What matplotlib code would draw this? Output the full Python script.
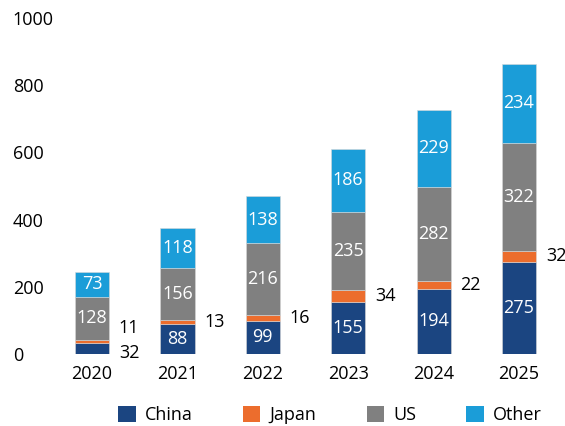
import matplotlib.pyplot as plt
import numpy as np
from matplotlib.patches import Patch

plt.rcParams['font.family'] = ['Open Sans', 'DejaVu Sans']

years = ['2020', '2021', '2022', '2023', '2024', '2025']
china = [32, 88, 99, 155, 194, 275]
japan = [11, 13, 16, 34, 22, 32]
us = [128, 156, 216, 235, 282, 322]
other = [73, 118, 138, 186, 229, 234]

series_names = ['China', 'Japan', 'US', 'Other']
colors = ['#1b4581', '#ec6d2d', '#808080', '#1b9dd8']

W, H = 565, 426
fig = plt.figure(figsize=(W / 100, H / 100), dpi=100)
ax = fig.add_axes([60 / W, 72 / H, 500 / W, 336 / H])

x = np.arange(len(years))
bw = 0.4
bottom = np.zeros(len(years))
for vals, c in zip([china, japan, us, other], colors):
    ax.bar(x, vals, bw, bottom=bottom, color=c, edgecolor='#d8d8d8', linewidth=0.4)
    bottom += np.array(vals)

fs = 13
# labels inside bars
for i in range(len(years)):
    base = 0
    for name, vals in zip(series_names, [china, japan, us, other]):
        v = vals[i]
        mid = base + v / 2
        if name == 'Japan':
            dy = 10 if i == 0 else 0
            ax.annotate(str(v), (x[i] + bw / 2, mid), xytext=(7, dy), textcoords='offset points',
                        ha='left', va='center', fontsize=fs, color='black')
        elif name == 'China' and v < 50:
            ax.annotate(str(v), (x[i] + bw / 2, mid), xytext=(7, -3), textcoords='offset points',
                        ha='left', va='center', fontsize=fs, color='black')
        else:
            ax.text(x[i], mid, str(v), ha='center', va='center', fontsize=fs, color='white')
        base += v

ax.set_xlim(-0.375, 5.48)
ax.set_ylim(0, 1000)
ax.set_yticks(range(0, 1001, 200))
ax.set_xticks(x)
ax.set_xticklabels(years)
for s in ax.spines.values():
    s.set_visible(False)
ax.tick_params(axis='both', length=0, labelsize=fs)
ax.tick_params(axis='x', pad=8)
ax.tick_params(axis='y', pad=34)
for lbl in ax.get_yticklabels():
    lbl.set_horizontalalignment('left')

handles = [Patch(facecolor=c, label=n) for n, c in zip(series_names, colors)]
fig.legend(handles=handles, loc='center', bbox_to_anchor=(330 / W, 11 / H), ncol=4,
           frameon=False, fontsize=fs, handlelength=0.95, handleheight=0.95,
           handletextpad=0.5, columnspacing=2.8)

fig.savefig('out.png', dpi=100)
